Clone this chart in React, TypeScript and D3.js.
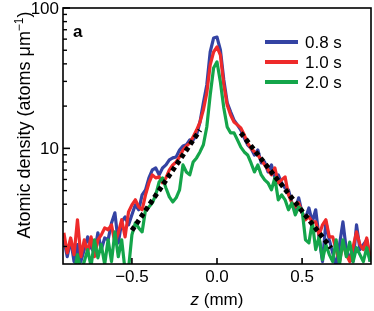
import React from 'react'
import * as d3 from 'd3'

// z positions (mm), one sample every 0.02 mm
const zValues = d3.range(-0.9, 0.9001, 0.02).map(v => Math.round(v * 100) / 100)

// atomic density (atoms per um)
const dens08 = [
  2.23, 1.69, 2.23, 1.56, 2.06, 1.56, 1.90, 2.34, 1.96, 1.80,
  2.50, 1.90, 2.30, 2.23, 2.94, 3.47, 2.12, 2.99, 3.25, 2.85,
  3.36, 3.96, 3.65, 4.66, 5.06, 6.16, 7.02, 7.25, 6.47, 7.25,
  7.62, 8.27, 8.55, 8.69, 9.74, 10.4, 10.6, 11.5, 11.5, 12.5,
  15.4, 21.1, 28.3, 48.6, 61.1, 62.1, 50.2, 30.7, 21.1, 18.2,
  15.9, 14.7, 13.5, 11.9, 10.6, 10.0, 8.97, 9.74, 7.87, 8.00,
  6.79, 7.62, 6.16, 6.47, 5.67, 5.22, 5.06, 4.09, 3.65, 4.44,
  3.47, 3.19, 3.76, 2.99, 3.65, 2.30, 1.56, 2.99, 2.23, 1.80,
  1.44, 2.06, 2.99, 1.90, 1.66, 1.56, 2.85, 1.90, 2.06, 2.23,
  1.56
]
const dens10 = [
  2.50, 1.80, 2.30, 1.75, 3.10, 1.69, 2.23, 1.83, 2.34, 1.69,
  2.23, 2.42, 2.71, 2.63, 2.85, 2.12, 2.50, 3.10, 2.34, 3.52,
  3.96, 4.30, 3.82, 3.65, 4.66, 5.67, 6.47, 6.16, 6.26, 5.67,
  6.16, 7.02, 7.62, 8.00, 8.69, 9.74, 10.4, 10.9, 12.1, 13.5,
  15.4, 18.8, 24.8, 39.3, 48.6, 52.8, 46.2, 28.3, 20.4, 17.3,
  15.4, 14.7, 14.0, 12.5, 10.9, 10.0, 9.43, 8.97, 8.27, 7.62,
  7.02, 6.47, 7.25, 5.67, 5.96, 6.26, 4.66, 4.09, 3.82, 4.09,
  3.47, 3.10, 3.25, 2.99, 2.99, 2.42, 2.85, 3.10, 2.34, 2.34,
  1.90, 1.56, 2.12, 1.75, 1.56, 1.99, 2.54, 2.06, 1.90, 2.30,
  1.69
]
const dens20 = [
  1.28, 1.28, 1.38, 1.28, 1.75, 1.34, 1.56, 1.90, 1.44, 2.23,
  1.66, 2.06, 1.49, 2.23, 1.56, 2.54, 1.69, 2.23, 1.34, 1.38,
  2.42, 2.94, 2.71, 2.54, 3.65, 3.82, 4.09, 4.66, 5.76, 6.16,
  5.22, 4.51, 4.15, 4.44, 5.06, 7.62, 6.79, 6.47, 8.00, 8.55,
  9.43, 10.6, 14.2, 24.0, 37.4, 41.3, 29.7, 19.4, 14.2, 12.9,
  12.9, 11.5, 10.2, 9.43, 8.97, 7.87, 6.79, 7.62, 6.47, 5.96,
  5.67, 5.06, 6.16, 4.30, 4.66, 4.30, 3.65, 4.09, 3.36, 3.82,
  3.65, 2.23, 2.12, 2.99, 1.90, 2.34, 1.61, 2.06, 1.75, 1.56,
  2.23, 1.49, 2.23, 1.69, 2.15, 1.56, 1.96, 1.75, 1.56, 1.96,
  1.56
]

// exponential fits (dotted)
const fitLeft: [number, number][] = [[-0.5, 2.6], [-0.1, 13.5]]
const fitRight: [number, number][] = [[0.14, 12.9], [0.67, 1.95]]

const seriesNames = ['0.8 s', '1.0 s', '2.0 s']
const seriesColors = ['#3443a3', '#ee2a2a', '#14a54a']
const seriesData = [dens08, dens10, dens20]

const xTicks = [-0.5, 0, 0.5]
const yMajor = [10, 100]
const yMinor = [2, 3, 4, 5, 6, 7, 8, 9, 20, 30, 40, 50, 60, 70, 80, 90]

const W = 374, H = 311
const left = 63, right = 371, top = 8, bottom = 264

export default function App() {
  const x = d3.scaleLinear().domain([-0.905, 0.905]).range([left, right])
  const y = d3.scaleLog().domain([1.5, 100]).range([bottom, top])

  const line = d3.line<[number, number]>()
    .x(d => x(d[0]))
    .y(d => y(d[1]))

  const font = 'Liberation Sans, Arial, sans-serif'

  return (
    <svg width={W} height={H} style={{ position: 'fixed', left: 0, top: 0 }} fontFamily={font}>
      <defs>
        <clipPath id="plotclip">
          <rect x={left} y={top} width={right - left} height={bottom - top} />
        </clipPath>
      </defs>

      <g clipPath="url(#plotclip)">
        {seriesData.map((vals, k) => (
          <path key={k}
            d={line(zValues.map((z, i) => [z, vals[i]] as [number, number])) || ''}
            fill="none" stroke={seriesColors[k]} strokeWidth={3.2} strokeLinejoin="round" />
        ))}
        {[fitLeft, fitRight].map((f, k) => (
          <path key={'fit' + k} d={line(f) || ''} fill="none" stroke="#000"
            strokeWidth={5} strokeDasharray="4.5,3.5" />
        ))}
      </g>

      {/* frame */}
      <rect x={left} y={top} width={right - left} height={bottom - top}
        fill="none" stroke="#000" strokeWidth={1.6} />

      {/* y ticks */}
      {yMajor.map(v => (
        <g key={'ym' + v}>
          <line x1={left} x2={left + 7} y1={y(v)} y2={y(v)} stroke="#000" strokeWidth={1.6} />
          <text x={left - 4} y={y(v)} dy="0.36em" textAnchor="end" fontSize={17}>{v}</text>
        </g>
      ))}
      {yMinor.map(v => (
        <line key={'yn' + v} x1={left} x2={left + 4} y1={y(v)} y2={y(v)} stroke="#000" strokeWidth={1.4} />
      ))}

      {/* x ticks */}
      {xTicks.map(v => (
        <g key={'x' + v}>
          <line x1={x(v)} x2={x(v)} y1={bottom} y2={bottom - 6} stroke="#000" strokeWidth={1.6} />
          <text x={x(v)} y={bottom + 18} textAnchor="middle" fontSize={17}>
            {v === 0 ? '0.0' : d3.format('.1f')(v).replace('-', '\u2212')}
          </text>
        </g>
      ))}

      {/* axis titles */}
      <text x={x(0)} y={305} textAnchor="middle" fontSize={17}>
        <tspan fontStyle="italic">z</tspan> (mm)
      </text>
      <text transform={`translate(30,${(top + bottom) / 2 - 11}) rotate(-90)`} textAnchor="middle" fontSize={18}>
        Atomic density (atoms μm<tspan dy="-7" fontSize={12}>−1</tspan><tspan dy="7">)</tspan>
      </text>

      {/* panel letter */}
      <text x={73} y={37} fontSize={17} fontWeight="bold">a</text>

      {/* legend */}
      {seriesNames.map((name, k) => (
        <g key={name} transform={`translate(265,${42 + k * 20})`}>
          <line x1={0} x2={33} y1={0} y2={0} stroke={seriesColors[k]} strokeWidth={4} />
          <text x={40} y={0} dy="0.36em" fontSize={17}>{name}</text>
        </g>
      ))}
    </svg>
  )
}
